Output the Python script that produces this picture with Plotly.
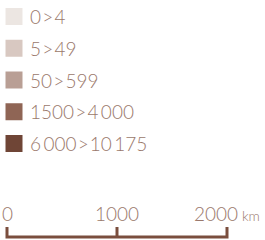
import plotly.graph_objects as go

# Legend data
classes = ["0\u200a>\u200a4", "5\u200a>\u200a49", "50\u200a>\u200a599",
           "1500\u200a>\u200a4\u2009000", "6\u2009000\u200a>\u200a10\u2009175"]
class_colors = ["#ece6e2", "#d8c8c1", "#b99f95", "#8f6555", "#6f4536"]

# Scale bar data
scale_ticks = [0, 1000, 2000]
scale_labels = ["0", "1000", "2000"]
scale_unit = "km"

TEXT = "#9a786b"
BAR = "#7a4e3e"
FONT = "Lato"

fig = go.Figure()

idx = list(range(len(classes)))
fig.add_trace(go.Scatter(
    x=[14] * len(classes), y=idx, xaxis="x2", yaxis="y2",
    mode="markers",
    marker=dict(symbol="square", size=17, color=class_colors, line=dict(width=0)),
    hoverinfo="skip", showlegend=False))

annotations = []
for i, (c, lab) in enumerate(zip(class_colors, classes)):
    annotations.append(dict(x=27.5, y=i, xref="x2", yref="y2", text=lab,
                            showarrow=False, xanchor="left", yanchor="middle",
                            font=dict(family=FONT, size=19, color=TEXT, weight=300)))

# scale bar path
ybot, ytop = 237, 227
xs = [scale_ticks[0], scale_ticks[0], scale_ticks[-1], scale_ticks[-1], None, scale_ticks[1], scale_ticks[1]]
ys = [ytop, ybot, ybot, ytop, None, ybot, ytop]
fig.add_trace(go.Scatter(x=xs, y=ys, mode="lines",
                         line=dict(color=BAR, width=3), hoverinfo="skip", showlegend=False))

for t, lab in zip(scale_ticks, scale_labels):
    txt = lab
    if t == scale_ticks[-1]:
        txt = lab + "<span style='font-size:14px'> " + scale_unit + "</span>"
    annotations.append(dict(x=t, y=213, xref="x", yref="y", text=txt,
                            showarrow=False, xanchor="center", yanchor="middle",
                            font=dict(family=FONT, size=19, color=TEXT, weight=300)))

kmpx = 2000 / 220.0
fig.update_layout(
    width=265, height=240, margin=dict(l=0, r=0, t=0, b=0),
    paper_bgcolor="white", plot_bgcolor="white",
    xaxis=dict(range=[-7 * kmpx, (265 - 7) * kmpx], visible=False, fixedrange=True),
    yaxis=dict(range=[240, 0], visible=False, fixedrange=True),
    xaxis2=dict(range=[0, 265], overlaying="x", visible=False),
    yaxis2=dict(range=[(240 - 16.5) / 31.75, -16.5 / 31.75], overlaying="y", visible=False),
    annotations=annotations,
)
fig.write_html("out.html", config=dict(displayModeBar=False),
               post_script="document.body.style.margin='0';document.body.style.overflow='hidden';")
